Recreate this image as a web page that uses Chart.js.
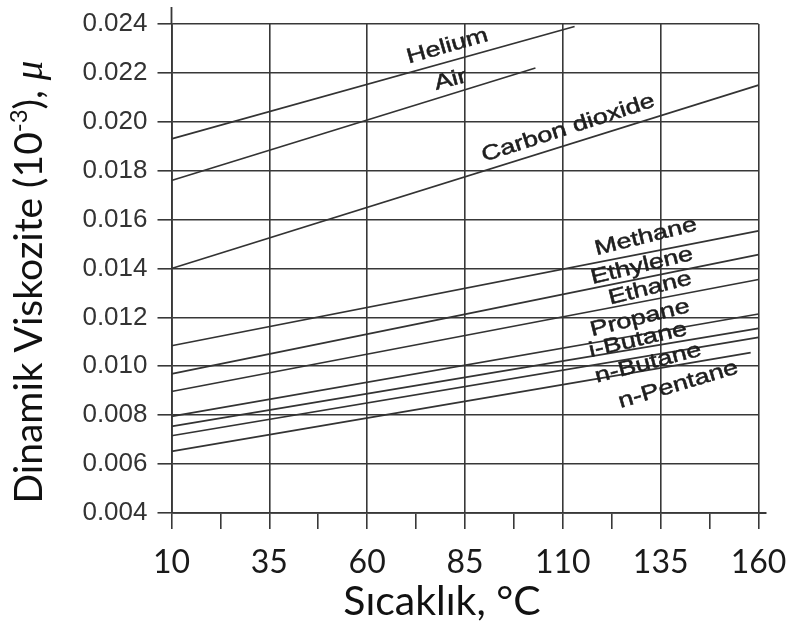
<!DOCTYPE html>
<html lang="tr">
<head>
<meta charset="UTF-8">
<title>Dinamik Viskozite</title>
<script src="https://cdn.jsdelivr.net/npm/chart.js"></script>
<style>
    html, body { margin: 0; padding: 0; background: #fff; }
    #kutu { width: 787px; height: 628px; }
</style>
</head>
<body>
<div id="kutu"><canvas id="grafik"></canvas></div>
<script>
    // gazlar: her biri bir dogru, iki uc noktasi (sicaklik °C, viskozite)
    const gazlar = ['Helium', 'Air', 'Carbon dioxide', 'Methane', 'Ethylene', 'Ethane', 'Propane', 'i-Butane', 'n-Butane', 'n-Pentane'];
    const baslangicT  = [10, 10, 10, 10, 10, 10, 10, 10, 10, 10];
    const bitisT      = [113, 103, 160, 160, 160, 160, 160, 160, 160, 158];
    const baslangicMu = [0.0193, 0.0176, 0.0140, 0.01084, 0.00969, 0.00897, 0.00795, 0.00754, 0.00716, 0.00652];
    const bitisMu     = [0.0239, 0.0222, 0.0215, 0.01554, 0.01457, 0.01355, 0.01214, 0.01155, 0.01118, 0.01056];

    // eksen tikleri
    const xTikler = [10, 35, 60, 85, 110, 135, 160];
    const yTikler = [0.004, 0.006, 0.008, 0.010, 0.012, 0.014, 0.016, 0.018, 0.020, 0.022, 0.024];

    // dogru uzerindeki yazilarin yeri (veri koordinati) ve egimi (derece)
    const etiketT   = [80.5, 81.3, 111.4, 131.2, 130.2, 132.3, 129.7, 129.2, 131.8, 139.5];
    const etiketMu  = [0.02308, 0.0217, 0.01973, 0.01529, 0.0141, 0.01318, 0.01196, 0.01107, 0.01012, 0.00924];
    const etiketAci = [16, 15, 18, 14, 13.5, 14, 14, 13, 14.5, 16.5];

    const cizgi = '#383838';

    const veriSetleri = gazlar.map((ad, i) => ({
        label: ad,
        data: [
            { x: baslangicT[i], y: baslangicMu[i] },
            { x: bitisT[i], y: bitisMu[i] }
        ],
        showLine: true,
        borderColor: '#333',
        borderWidth: 1.7,
        pointRadius: 0,
        tension: 0
    }));

    // gaz isimleri, dogrulara paralel
    const etiketYaz = {
        id: 'etiketYaz',
        afterDatasetsDraw(chart) {
            const { ctx, scales: { x, y } } = chart;
            ctx.save();
            ctx.fillStyle = '#1e1e1e';
            ctx.font = '21px "Liberation Sans", Arial, sans-serif';
            ctx.textAlign = 'center';
            ctx.textBaseline = 'middle';
            ctx.strokeStyle = '#1e1e1e';
            ctx.lineWidth = 0.5;
            gazlar.forEach((ad, i) => {
                ctx.save();
                ctx.translate(x.getPixelForValue(etiketT[i]), y.getPixelForValue(etiketMu[i]));
                ctx.rotate(-etiketAci[i] * Math.PI / 180);
                ctx.scale(1.28, 1);
                ctx.fillText(ad, 0, 0);
                ctx.strokeText(ad, 0, 0);
                ctx.restore();
            });
            ctx.restore();
        }
    };

    // eksen basliklari (y basliginda ust simge ve italik mu) + eksen cizgisi uzantilari
    const eksenEk = {
        id: 'eksenEk',
        afterDraw(chart) {
            const { ctx, chartArea: a } = chart;
            ctx.save();
            ctx.strokeStyle = cizgi;
            ctx.lineWidth = 1.8;
            ctx.beginPath();
            ctx.moveTo(a.left, 7);
            ctx.lineTo(a.left, a.top);
            ctx.moveTo(a.right, a.bottom);
            ctx.lineTo(a.right + 8, a.bottom);
            ctx.stroke();

            ctx.fillStyle = '#111';
            ctx.textBaseline = 'alphabetic';

            // x basligi
            ctx.font = '41px Lato, sans-serif';
            ctx.textAlign = 'center';
            ctx.fillText('Sıcaklık, °C', 442, 615);

            // y basligi
            const parcalar = [
                { t: 'Dinamik Viskozite (10', f: '39px Lato, sans-serif', dy: 0 },
                { t: '-3', f: '24px Lato, sans-serif', dy: -15 },
                { t: '), ', f: '39px Lato, sans-serif', dy: 0 },
                { t: 'μ', f: 'italic 39px "Liberation Serif", serif', dy: 0 }
            ];
            let toplam = 0;
            parcalar.forEach(p => { ctx.font = p.f; p.w = ctx.measureText(p.t).width; toplam += p.w; });
            ctx.translate(42, 282);
            ctx.rotate(-Math.PI / 2);
            ctx.textAlign = 'left';
            let px = -toplam / 2;
            parcalar.forEach(p => {
                ctx.font = p.f;
                ctx.fillText(p.t, px, p.dy);
                px += p.w;
            });
            ctx.restore();
        }
    };

    const config = {
        type: 'scatter',
        data: { datasets: veriSetleri },
        options: {
            responsive: true,
            maintainAspectRatio: false,
            animation: false,
            layout: { padding: { top: 24, right: 28.5, left: 0, bottom: 0 } },
            plugins: {
                legend: { display: false },
                tooltip: { enabled: false }
            },
            scales: {
                x: {
                    type: 'linear',
                    min: 10,
                    max: 160,
                    afterFit: s => { s.height = 115; s.paddingLeft = 0; s.paddingRight = 0; },
                    ticks: {
                        stepSize: 12.5,
                        autoSkip: false,
                        maxRotation: 0,
                        padding: 14,
                        color: '#1a1a1a',
                        font: { family: 'Lato', size: 32 },
                        callback: v => xTikler.includes(v) ? String(v) : ''
                    },
                    grid: {
                        color: c => (c.tick && xTikler.includes(c.tick.value)) ? cizgi : 'rgba(0,0,0,0)',
                        tickColor: cizgi,
                        lineWidth: 1.6,
                        tickLength: 16
                    },
                    border: { color: cizgi, width: 1.8 }
                },
                y: {
                    min: 0.004,
                    max: 0.024,
                    afterFit: s => { s.width = 171.5; s.paddingTop = 0; s.paddingBottom = 0; },
                    afterBuildTicks: s => { s.ticks = yTikler.map(v => ({ value: v })); },
                    ticks: {
                        padding: 10,
                        color: '#333',
                        font: { family: 'Liberation Sans', size: 26 },
                        callback: v => v.toFixed(3)
                    },
                    grid: {
                        color: cizgi,
                        tickColor: cizgi,
                        lineWidth: 1.6,
                        tickLength: 14
                    },
                    border: { color: cizgi, width: 1.8 }
                }
            }
        },
        plugins: [etiketYaz, eksenEk]
    };

    new Chart(document.getElementById('grafik'), config);
</script>
</body>
</html>
